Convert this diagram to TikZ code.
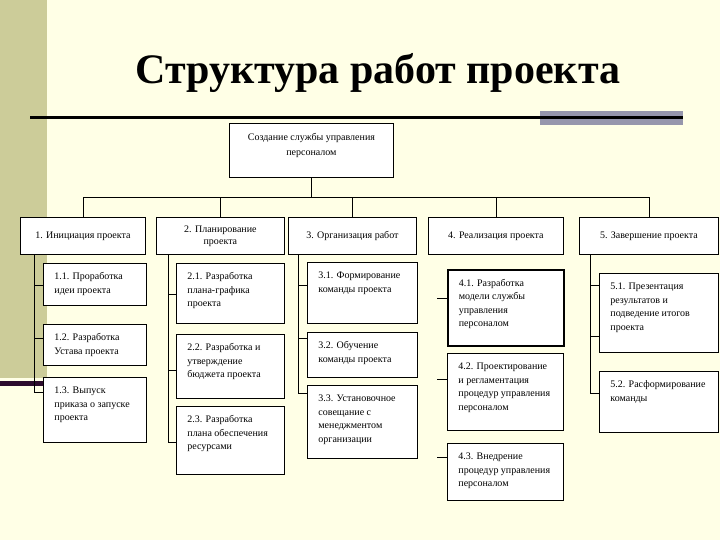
\documentclass[tikz,border=0pt]{standalone}
\usepackage{fontspec}
\setmainfont{Liberation Serif}
\definecolor{bgc}{RGB}{255,255,230}
\definecolor{olivb}{RGB}{204,204,153}
\definecolor{darkp}{RGB}{45,12,45}
\definecolor{greyb}{RGB}{150,150,172}
\newcommand\kb[3]{\parbox[c][#2pt][t]{\dimexpr #1pt-22pt\relax}{\raggedright\vspace{7pt}\strut #3}}
\newcommand\tb[3]{\parbox[c][#2pt][t]{\dimexpr #1pt-22pt\relax}{\centering\vspace{7pt}\strut #3}}
\begin{document}
\begin{tikzpicture}[x=1pt,y=-1pt,
  lvl/.style={draw, line width=0.8pt, fill=white, anchor=north west, inner sep=0pt, align=center, minimum height=37pt, font=\fontsize{10}{12}\selectfont},
  kid/.style={draw, line width=0.8pt, fill=white, anchor=north west, inner xsep=11pt, inner ysep=0pt, font=\fontsize{10}{13.5}\selectfont},
  link/.style={line width=0.8pt}]
\useasboundingbox (0,0) rectangle (720,540);
\fill[bgc] (0,0) rectangle (720,540);
\fill[olivb] (0,0) rectangle (47,378);
\fill[darkp] (0,381) rectangle (47,386);
\fill[greyb] (540,111) rectangle (683,125);
\draw[line width=2.5pt, black] (30,117.5) -- (683,117.5);
\node[font=\fontsize{42}{48}\selectfont\bfseries, anchor=base] (title) at (378,84) {Структура работ проекта};
% top
\node[kid, inner xsep=11pt, font=\fontsize{10}{15}\selectfont] (b0) at (229,123) {\tb{164}{54}{Создание службы управления\\персоналом}};
% level 1
\node[lvl, minimum width=125pt] (b1) at (20,217) {1. Инициация проекта};
\node[lvl, minimum width=128pt] (b2) at (156,217) {2. Планирование\\проекта};
\node[lvl, minimum width=128pt] (b3) at (288,217) {3. Организация работ};
\node[lvl, minimum width=135pt] (b4) at (428,217) {4. Реализация проекта};
\node[lvl, minimum width=139pt] (b5) at (579,217) {5. Завершение проекта};
% children
\node[kid] (b11) at (43,263) {\kb{103}{42}{1.1. Проработка\\идеи проекта}};
\node[kid] (b12) at (43,324) {\kb{103}{41}{1.2. Разработка\\Устава проекта}};
\node[kid] (b13) at (43,377) {\kb{103}{65}{1.3. Выпуск\\приказа о запуске\\проекта}};
\node[kid] (b21) at (176,263) {\kb{108}{60}{2.1. Разработка\\плана-графика\\проекта}};
\node[kid] (b22) at (176,334) {\kb{108}{64}{2.2. Разработка и\\утверждение\\бюджета проекта}};
\node[kid] (b23) at (176,406) {\kb{108}{68}{2.3. Разработка\\плана обеспечения\\ресурсами}};
\node[kid] (b31) at (307,262) {\kb{110}{61}{3.1. Формирование\\команды проекта}};
\node[kid] (b32) at (307,332) {\kb{110}{45}{3.2. Обучение\\команды проекта}};
\node[kid] (b33) at (307,385) {\kb{110}{73}{3.3. Установочное\\совещание с\\менеджментом\\организации}};
\node[kid, line width=1.6pt] (b41) at (447,269) {\kb{116}{76}{4.1. Разработка\\модели службы\\управления\\персоналом}};
\node[kid] (b42) at (447,353) {\kb{116}{77}{4.2. Проектирование\\и регламентация\\процедур управления\\персоналом}};
\node[kid] (b43) at (447,443) {\kb{116}{57}{4.3. Внедрение\\процедур управления\\персоналом}};
\node[kid] (b51) at (599,273) {\kb{119}{79}{5.1. Презентация\\результатов и\\подведение итогов\\проекта}};
\node[kid] (b52) at (599,371) {\kb{119}{61}{5.2. Расформирование\\команды}};
% bus
\coordinate (bus) at (0,197);
\draw[link] (b0.south) -- (b0.south |- bus);
\draw[link] (b1.north) -- (b1.north |- bus) -- (b5.north |- bus) -- (b5.north);
\draw[link] (b2.north) -- (b2.north |- bus);
\draw[link] (b3.north) -- (b3.north |- bus);
\draw[link] (b4.north) -- (b4.north |- bus);
% column 1
\coordinate (c11) at (34,285); \coordinate (c12) at (34,338); \coordinate (c13) at (34,392);
\draw[link] (b1.south -| c11) -- (c13) -- (c13 -| b13.west);
\draw[link] (c11) -- (c11 -| b11.west);
\draw[link] (c12) -- (c12 -| b12.west);
% column 2
\coordinate (c21) at (168,294); \coordinate (c22) at (168,370); \coordinate (c23) at (168,442);
\draw[link] (b2.south -| c21) -- (c23) -- (c23 -| b23.west);
\draw[link] (c21) -- (c21 -| b21.west);
\draw[link] (c22) -- (c22 -| b22.west);
% column 3
\coordinate (c31) at (298,285); \coordinate (c32) at (298,338); \coordinate (c33) at (298,393);
\draw[link] (b3.south -| c31) -- (c33) -- (c33 -| b33.west);
\draw[link] (c31) -- (c31 -| b31.west);
\draw[link] (c32) -- (c32 -| b32.west);
% column 4 (stubs only)
\coordinate (c41) at (437,298); \coordinate (c42) at (437,379); \coordinate (c43) at (437,457);
\draw[link] (c41) -- (c41 -| b41.west);
\draw[link] (c42) -- (c42 -| b42.west);
\draw[link] (c43) -- (c43 -| b43.west);
% column 5
\coordinate (c51) at (590,285); \coordinate (c5m) at (590,336); \coordinate (c52) at (590,393);
\draw[link] (b5.south -| c51) -- (c52) -- (c52 -| b52.west);
\draw[link] (c51) -- (c51 -| b51.west);
\draw[link] (c5m) -- (c5m -| b51.west);
\end{tikzpicture}
\end{document}
